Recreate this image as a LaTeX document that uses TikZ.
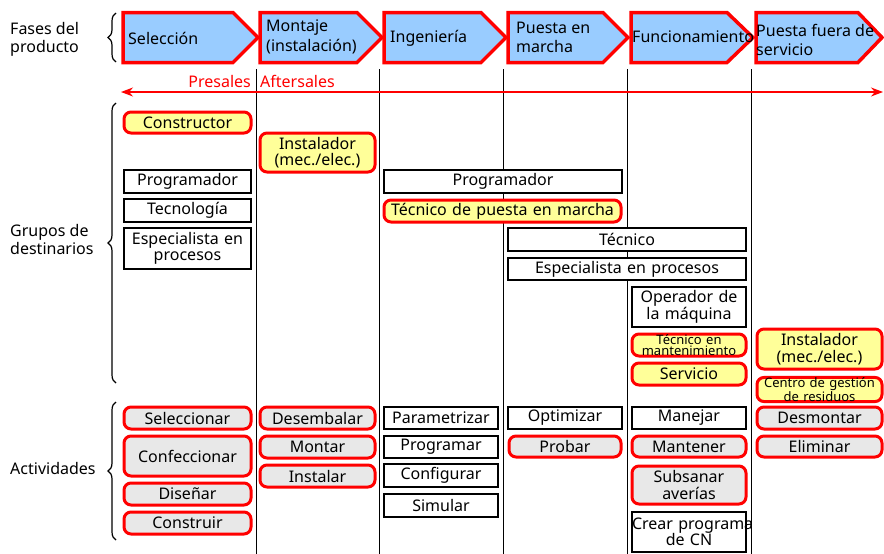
\documentclass[tikz,border=0pt]{standalone}
\usepackage{fontspec}
\setmainfont{Noto Sans}
\usetikzlibrary{arrows.meta,decorations.pathreplacing}
\definecolor{phaseblue}{RGB}{153,204,255}
\definecolor{yelfill}{RGB}{255,255,153}
\definecolor{actgrey}{RGB}{232,232,232}
\newcommand\mybox[7]{%
  \pgfmathsetmacro\bw{#4-#2}\pgfmathsetmacro\bh{#5-#3}%
  \pgfmathsetmacro\bcx{(#2+#4)/2}\pgfmathsetmacro\bcy{(#3+#5)/2}%
  \node[#1, text width=\bw pt, minimum height=\bh pt] (#6) at (\bcx,\bcy) {#7};}
\newcommand\phaseshape[3]{%
  \draw[phase] (#1,12.5) -- (#2,12.5) -- (#3,37.5) -- (#2,62.5) -- (#1,62.5) -- cycle;}
\begin{document}
\begin{tikzpicture}[x=1pt,y=-1pt,
  every node/.style={font=\fontsize{16}{16.5}\selectfont, inner sep=0pt, text=black},
  plain/.style={draw=black, line width=1.2pt, fill=white, align=center},
  redbox/.style={draw=red, line width=3pt, rounded corners=7pt, align=center},
  yel/.style={redbox, fill=yelfill},
  act/.style={redbox, fill=actgrey},
  small/.style={font=\fontsize{13}{11.5}\selectfont},
  phase/.style={draw=red, line width=3.5pt, fill=phaseblue},
  phasetxt/.style={anchor=west, align=left, font=\fontsize{16}{19.5}\selectfont},
  lefttxt/.style={anchor=west, align=left, font=\fontsize{16}{18}\selectfont},
  sep/.style={draw=black, line width=0.9pt},
  bracestyle/.style={draw=black, line width=1.2pt, decorate, decoration={brace, amplitude=8pt}},
  redtxt/.style={text=red}
]
\useasboundingbox (0,0) rectangle (884,554);

% column separators
\foreach \xx in {256,379,503,627,751} {\draw[sep] (\xx,69) -- (\xx,554);}

% phases
\phaseshape{123}{233}{258}
\phaseshape{260}{357}{382}
\phaseshape{384}{481}{506}
\phaseshape{508}{603}{628}
\phaseshape{631}{727}{753}
\phaseshape{756}{858}{882}
\node[phasetxt] (ph1) at (128,38) {Selección};
\node[phasetxt] (ph2) at (266,37) {Montaje\\(instalación)};
\node[phasetxt] (ph3) at (390,38) {Ingeniería};
\node[phasetxt] (ph4) at (516,37.5) {Puesta en\\marcha};
\node[phasetxt] (ph5) at (632,37) {Funcionamiento};
\node[phasetxt] (ph6) at (756,40) {Puesta fuera de\\servicio};

% left labels and braces
\node[lefttxt] (lab1) at (10,39) {Fases del\\producto};
\node[lefttxt] (lab2) at (10,239) {Grupos de\\destinarios};
\node[lefttxt] (lab3) at (10,468) {Actividades};
\draw[bracestyle] (116,62) -- (116,13);
\draw[bracestyle] (116,383) -- (116,103);
\draw[bracestyle] (116,540) -- (116,402);

% presales / aftersales arrow
\coordinate (arrL) at (121,92);
\coordinate (arrR) at (883,92);
\draw[red, line width=1.2pt, {Stealth[length=12pt,width=9pt]}-{Stealth[length=12pt,width=9pt]}] (arrL) -- (arrR);
\node[redtxt, anchor=east] (pre) at (251,81) {Presales};
\node[redtxt, anchor=west] (aft) at (260,81) {Aftersales};

% target groups
\mybox{yel}{124}{112}{251}{133}{cons}{Constructor}
\mybox{yel}{260}{133}{375}{172}{inst1}{Instalador\\(mec./elec.)}
\mybox{plain}{124}{170}{251}{193}{prog1}{Programador}
\mybox{plain}{124}{199}{251}{222}{tec}{Tecnología}
\mybox{plain}{124}{228}{251}{269}{esp1}{Especialista en\\procesos}
\mybox{plain}{384}{170}{622}{193}{prog2}{Programador}
\mybox{yel}{384}{200}{621}{222}{tpm}{Técnico de puesta en marcha}
\mybox{plain}{508}{228}{746}{251}{tecn}{Técnico}
\mybox{plain}{508}{258}{746}{280}{esp2}{Especialista en procesos}
\mybox{plain}{632}{287}{746}{327}{oper}{Operador de\\la máquina}
\mybox{yel,small}{632}{334}{746}{356}{tman}{Técnico en\\mantenimiento}
\mybox{yel}{632}{363}{746}{385}{serv}{Servicio}
\mybox{yel}{757}{329}{882}{369}{inst2}{Instalador\\(mec./elec.)}
\mybox{yel,small}{757}{378}{882}{401}{cgr}{Centro de gestión\\de residuos}

% activities
\mybox{act}{124}{407}{251}{429}{sel}{Seleccionar}
\mybox{act}{124}{436}{251}{476}{conf}{Confeccionar}
\mybox{act}{124}{483}{251}{505}{dis}{Diseñar}
\mybox{act}{124}{512}{251}{534}{cons2}{Construir}
\mybox{act}{260}{407}{375}{429}{desem}{Desembalar}
\mybox{act}{260}{436}{375}{458}{mont}{Montar}
\mybox{act}{260}{465}{375}{487}{instal}{Instalar}
\mybox{plain}{384}{407}{498}{429}{param}{Parametrizar}
\mybox{plain}{384}{436}{498}{458}{progr}{Programar}
\mybox{plain}{384}{464}{498}{487}{config}{Configurar}
\mybox{plain}{384}{494}{498}{517}{simul}{Simular}
\mybox{plain}{508}{407}{622}{429}{optim}{Optimizar}
\mybox{act}{509}{436}{621}{457}{prob}{Probar}
\mybox{plain}{632}{407}{746}{429}{manej}{Manejar}
\mybox{act}{632}{436}{746}{457}{mant}{Mantener}
\mybox{act}{632}{466}{746}{504}{subs}{Subsanar\\averías}
\mybox{plain}{632}{512}{746}{552}{crear}{\mbox{Crear programa}\\de CN}
\mybox{act}{757}{407}{882}{429}{desm}{Desmontar}
\mybox{act}{757}{436}{882}{457}{elim}{Eliminar}
\end{tikzpicture}
\end{document}
